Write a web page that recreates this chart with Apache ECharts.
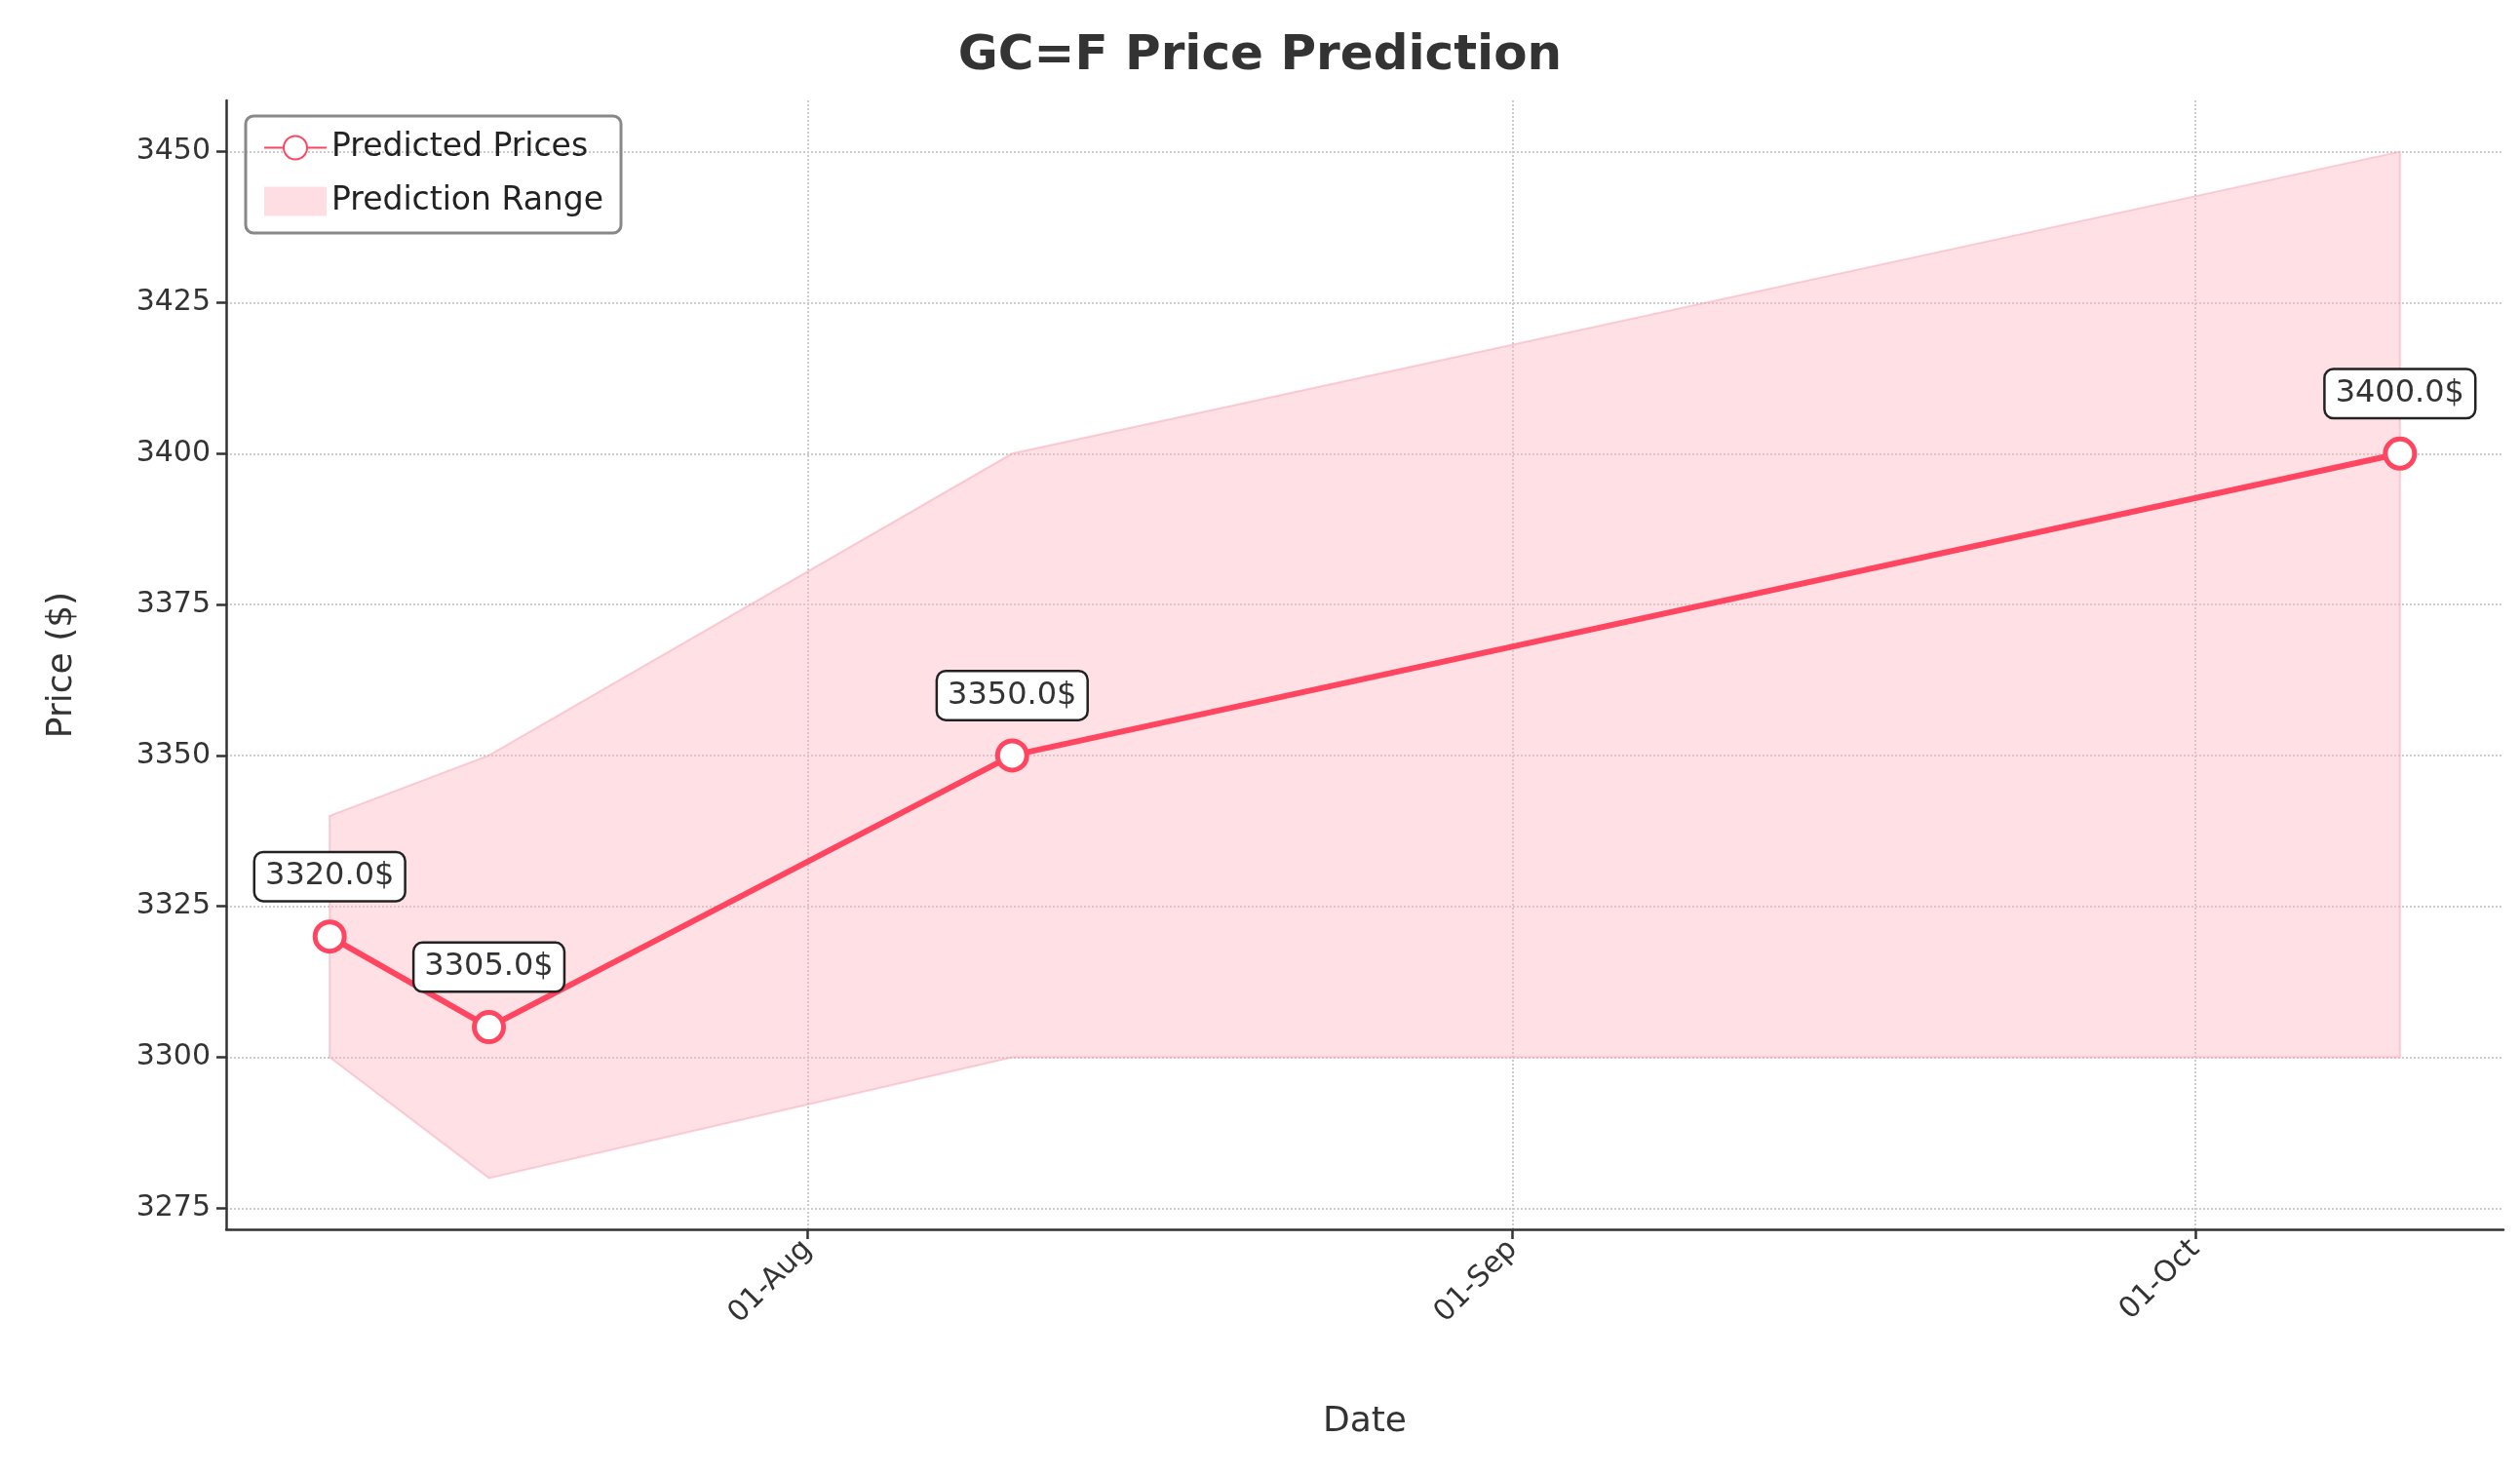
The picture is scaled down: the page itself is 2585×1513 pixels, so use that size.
<!DOCTYPE html>
<html><head><meta charset="utf-8">
<script src="https://cdn.jsdelivr.net/npm/echarts@6/dist/echarts.min.js"></script>
<style>html,body{margin:0;padding:0;background:#fff}#c{width:2585px;height:1513px}</style>
</head><body><div id="c"></div>
<script>
const dates = ['2025-07-11','2025-07-18','2025-08-10','2025-10-10'];
const predicted = [3320, 3305, 3350, 3400];
const rangeLow = [3300, 3280, 3300, 3300];
const rangeHigh = [3340, 3350, 3400, 3450];
const xTicks = ['2025-08-01','2025-09-01','2025-10-01'];
const yTicks = [3275, 3300, 3325, 3350, 3375, 3400, 3425, 3450];
const MON = ['Jan','Feb','Mar','Apr','May','Jun','Jul','Aug','Sep','Oct','Nov','Dec'];
const t = s => Date.parse(s + 'T00:00:00Z');
const xs = dates.map(t);
const day = 864e5;
const font = 'DejaVu Sans';
const chart = echarts.init(document.getElementById('c'));
chart.setOption({
  animation: false,
  textStyle: {fontFamily: font},
  title: {text: 'GC=F Price Prediction', left: 'center', top: 28,
    textStyle: {fontSize: 50, fontWeight: 'bold', color: '#333', fontFamily: font}},
  legend: {left: 252, top: 119, orient: 'vertical', itemGap: 22, itemWidth: 64, itemHeight: 30,
    padding: [16, 18], borderColor: '#888', borderWidth: 3, borderRadius: 8,
    textStyle: {fontSize: 33, color: '#222'},
    data: [{name: 'Predicted Prices'}, {name: 'Prediction Range', icon: 'rect'}]},
  grid: {left: 232, right: 17, top: 103, bottom: 252},
  xAxis: {type: 'value', min: xs[0] - 4.55 * day, max: xs[3] + 4.55 * day,
    name: 'Date', nameLocation: 'middle', nameGap: 180,
    nameTextStyle: {fontSize: 36, color: '#333'},
    axisLine: {lineStyle: {color: '#333', width: 2.5}},
    axisTick: {customValues: xTicks.map(t), length: 10, lineStyle: {color: '#333', width: 2.5}},
    axisLabel: {customValues: xTicks.map(t), rotate: 45, fontSize: 30, color: '#333', margin: 16,
      formatter: v => { const d = new Date(v); return String(d.getUTCDate()).padStart(2,'0') + '-' + MON[d.getUTCMonth()]; }},
    splitLine: {show: true, lineStyle: {type: 'dotted', color: '#ccc', width: 2}}},
  yAxis: {type: 'value', min: 3271.5, max: 3458.5,
    name: 'Price ($)', nameLocation: 'middle', nameGap: 150,
    nameTextStyle: {fontSize: 36, color: '#333'},
    axisLine: {show: true, lineStyle: {color: '#333', width: 2.5}},
    axisTick: {show: true, customValues: yTicks, length: 10, lineStyle: {color: '#333', width: 2.5}},
    axisLabel: {customValues: yTicks, fontSize: 30, color: '#333', margin: 16, formatter: v => String(v)},
    splitLine: {show: true, lineStyle: {type: 'dotted', color: '#ccc', width: 2}}},
  series: [
    {name: 'Prediction Range', type: 'custom', z: 1,
      itemStyle: {color: 'rgba(255,182,193,0.45)'},
      data: xs.map((x, i) => [x, rangeLow[i], rangeHigh[i]]),
      renderItem: (params, api) => {
        if (params.dataIndex !== 0) return null;
        const up = xs.map((x, i) => api.coord([x, rangeHigh[i]]));
        const lo = xs.map((x, i) => api.coord([x, rangeLow[i]])).reverse();
        return {type: 'polygon', shape: {points: up.concat(lo)},
          style: {fill: 'rgba(255,182,193,0.42)', stroke: 'rgba(245,170,185,0.55)', lineWidth: 2}};
      }},
    {name: 'Predicted Prices', type: 'line', symbol: 'circle', symbolSize: 30, z: 5,
      itemStyle: {color: '#fff', borderColor: '#ff4560', borderWidth: 5},
      lineStyle: {color: '#ff4560', width: 6},
      label: {show: true, position: 'top', distance: 20, fontSize: 32, color: '#333',
        backgroundColor: '#fff', borderColor: '#222', borderWidth: 2.5, borderRadius: 8,
        padding: [8, 10], formatter: p => p.value[1].toFixed(1) + '$'},
      data: xs.map((x, i) => [x, predicted[i]])}
  ]
});
</script></body></html>
